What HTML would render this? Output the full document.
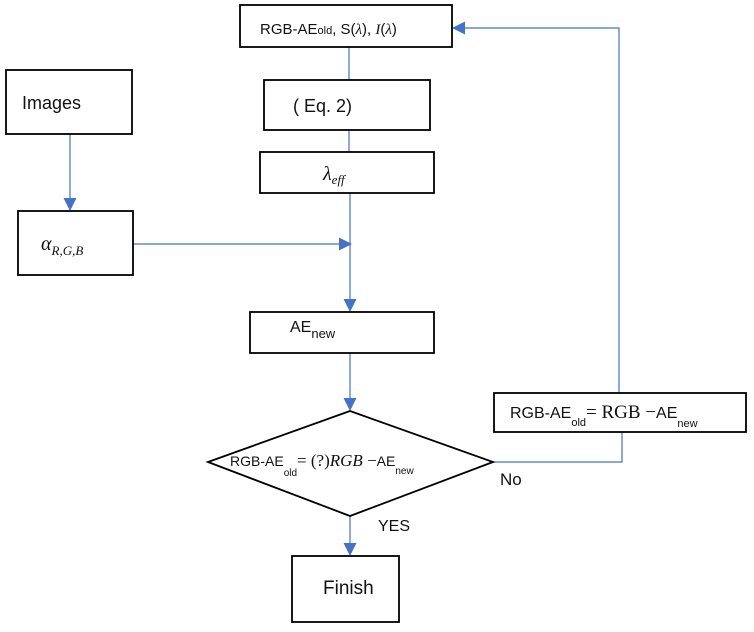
<!DOCTYPE html>
<html><head><style>body{margin:0;background:#fff}svg{display:block}text{font-family:"Liberation Sans",sans-serif;fill:#111}.m{font-family:"Liberation Serif",serif}</style></head>
<body>
<svg width="754" height="632" viewBox="0 0 754 632">
<defs><marker id="a" markerWidth="13" markerHeight="13" refX="12" refY="6.5" orient="auto" markerUnits="userSpaceOnUse"><path d="M0,0 L13,6.5 L0,13z" fill="#4472c4"/></marker></defs>
<g stroke="#4472c4" stroke-width="1.2" fill="none">
<line x1="349" y1="47" x2="349" y2="80"/>
<line x1="349" y1="130" x2="349" y2="152"/>
<line x1="350" y1="193" x2="350" y2="311" marker-end="url(#a)"/>
<line x1="133" y1="244" x2="351" y2="244" marker-end="url(#a)"/>
<line x1="70" y1="134" x2="70" y2="210" marker-end="url(#a)"/>
<line x1="350" y1="353" x2="350" y2="410" marker-end="url(#a)"/>
<polyline points="493,462 622,462 622,432"/>
<polyline points="619,393 619,28 453,28" marker-end="url(#a)"/>
<line x1="350" y1="516" x2="350" y2="555" marker-end="url(#a)"/>
</g>
<g stroke="#000" stroke-width="1.8" fill="#fff">
<rect x="240" y="5" width="212" height="42"/>
<rect x="264" y="80" width="166" height="50"/>
<rect x="260" y="152" width="174" height="41"/>
<rect x="6" y="70" width="126" height="64"/>
<rect x="18" y="211" width="115" height="64"/>
<rect x="250" y="312" width="184" height="41"/>
<polygon points="208,462 350,411 493,462 350,516"/>
<rect x="494" y="393" width="252" height="39"/>
<rect x="292" y="556" width="107" height="66"/>
</g>
<text x="260" y="34" font-size="15">RGB-AE<tspan font-size="11">old</tspan>, S(<tspan class="m" font-style="italic">λ</tspan>), <tspan class="m" font-style="italic">I</tspan>(<tspan class="m" font-style="italic">λ</tspan>)</text>
<text x="293" y="112" font-size="18">( Eq. 2)</text>
<text x="323" y="180" class="m" font-size="20" font-style="italic">λ<tspan font-size="13" dy="4">eff</tspan></text>
<text x="22" y="109" font-size="18">Images</text>
<text x="41" y="250" class="m" font-size="20" font-style="italic">α<tspan font-size="13" dy="5">R,G,B</tspan></text>
<text x="290" y="332" font-size="16">AE<tspan font-size="13" dy="6">new</tspan></text>
<text x="230" y="466" font-size="14">RGB-AE<tspan font-size="10" dy="10">old</tspan><tspan class="m" font-size="17" dy="-10">= (?)<tspan font-style="italic">RGB</tspan> −</tspan>AE<tspan font-size="10" dy="8">new</tspan></text>
<text x="510" y="418" font-size="16">RGB-AE<tspan font-size="11" dy="8">old</tspan><tspan class="m" font-size="19" dy="-8">= RGB −</tspan>AE<tspan font-size="11" dy="9">new</tspan></text>
<text x="323" y="594" font-size="19">Finish</text>
<text x="500" y="485" font-size="17">No</text>
<text x="378" y="531" font-size="16">YES</text>
</svg>
</body></html>
